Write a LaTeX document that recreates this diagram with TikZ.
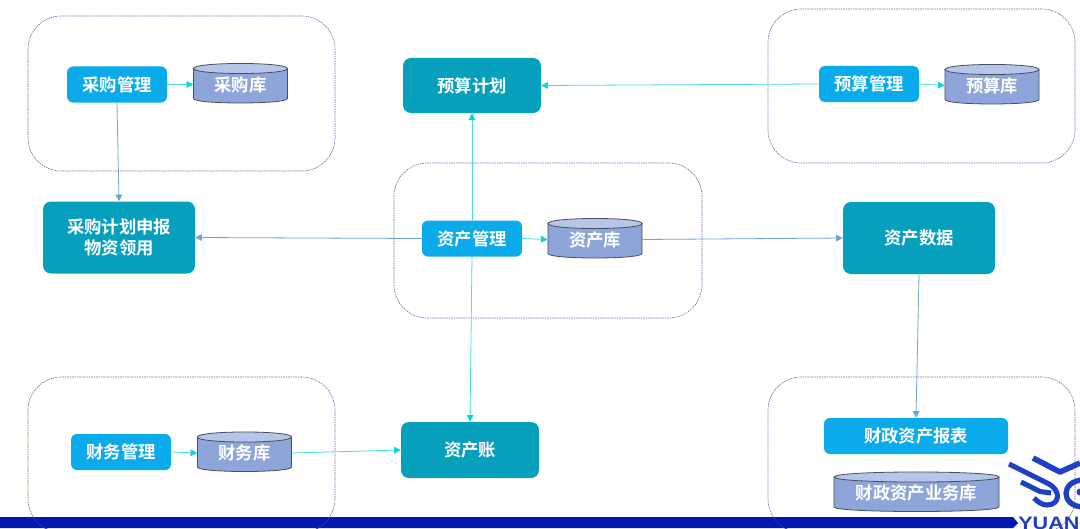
\documentclass[tikz,border=0pt]{standalone}
\usepackage{fontspec}
\setmainfont{Noto Sans CJK SC}[BoldFont={Noto Sans CJK SC Bold}]
\newfontfamily\logofont{Liberation Sans}
\usetikzlibrary{arrows.meta}
\definecolor{mgr}{HTML}{0BAAEA}
\definecolor{sys}{HTML}{06A0BC}
\definecolor{cylbody}{HTML}{8EA5D9}
\definecolor{cyltop}{HTML}{B6C5E8}
\definecolor{cyledge}{HTML}{4A4F5E}
\definecolor{frame}{HTML}{8159AE}
\definecolor{cyanline}{HTML}{45DCEE}
\definecolor{cyanhead}{HTML}{08D3EA}
\definecolor{steel}{HTML}{6BA5DC}
\definecolor{barblue}{HTML}{0318B0}
\definecolor{logoblue}{HTML}{1F3FC4}
\tikzset{
  x=0.75pt,y=-0.75pt,
  txt/.style={text=white,font=\bfseries\fontsize{13}{16}\selectfont,align=center,inner sep=0pt},
  zone/.style={draw=frame,dash pattern=on 1.1pt off 0.7pt,line width=0.45pt,rounded corners=25pt,fill=none},
  mgrbox/.style={txt,fill=mgr,rounded corners=4.5pt,minimum height=27pt},
  sysbox/.style={txt,fill=sys,rounded corners=6pt},
  db/.style={txt,minimum height=29.5pt},
  dbline/.style={draw=cyledge,line width=0.6pt},
  cyanarrow/.style={draw=cyanline,line width=0.6pt,-{Triangle[length=5pt,width=5pt,color=cyanhead]}},
  steelarrow/.style={draw=steel,line width=0.6pt,-{Triangle[length=5pt,width=5pt]}},
}
% cylinder: name, centre x, centre y, width (px), text
\newcommand\dbnode[5]{%
  \pgfmathsetmacro\xL{#2-#4/2}\pgfmathsetmacro\xR{#2+#4/2}%
  \pgfmathsetmacro\yT{#3-20}\pgfmathsetmacro\yA{#3-15}\pgfmathsetmacro\yB{#3+15}%
  \pgfmathsetmacro\yC{#3+21}\pgfmathsetmacro\yU{#3-21.7}\pgfmathsetmacro\yD{#3-8.3}%
  \path[dbline,fill=cylbody] (\xL,\yA) -- (\xL,\yB) .. controls (\xL,\yC) and (\xR,\yC) .. (\xR,\yB) -- (\xR,\yA) -- cycle;
  \path[dbline,fill=cyltop] (\xL,\yA) .. controls (\xL,\yU) and (\xR,\yU) .. (\xR,\yA) .. controls (\xR,\yD) and (\xL,\yD) .. (\xL,\yA) -- cycle;
  \node[db,minimum width=#4*0.75pt] (#1) at (#2,#3+1) {#5};%
}
\begin{document}
\begin{tikzpicture}
\useasboundingbox (0,0) rectangle (1080,528);
\fill[white] (0,0) rectangle (1080,528);
% zones
\node[zone,minimum width=230.25pt,minimum height=116.25pt] (z1) at (181.5,93.5) {};
\node[zone,minimum width=230.25pt,minimum height=115.5pt] (z2) at (921.5,86) {};
\node[zone,minimum width=231pt,minimum height=116.25pt] (z3) at (548,240.5) {};
\node[zone,minimum width=230.25pt,minimum height=116.25pt] (z4) at (181.5,454.5) {};
\node[zone,minimum width=230.25pt,minimum height=116.25pt] (z5) at (921.5,454.5) {};
% bar
\fill[barblue] (0,517) -- (1013,517) -- (1018,523) -- (1013,528) -- (0,528) -- cycle;
\begin{scope}
\clip (0,517) rectangle (1013,528);
\draw[frame!45!barblue,line width=0.45pt,rounded corners=25pt] (z4.north west) rectangle (z4.south east);
\draw[frame!45!barblue,line width=0.45pt,rounded corners=25pt] (z5.north west) rectangle (z5.south east);
\end{scope}
% nodes
\node[mgrbox,minimum width=75pt] (cgm) at (117,84.5) {采购管理};
\dbnode{cgk}{240.5}{83.5}{94}{采购库}
\node[sysbox,minimum width=103.5pt,minimum height=41.25pt] (ysjh) at (472,85.5) {预算计划};
\node[mgrbox,minimum width=75pt] (ysm) at (869,84) {预算管理};
\dbnode{ysk}{992}{84.5}{94}{预算库}
\node[sysbox,minimum width=114pt,minimum height=54pt] (cgjh) at (119,237.5) {采购计划申报\\物资领用};
\node[mgrbox,minimum width=75pt] (zcm) at (472,238.5) {资产管理};
\dbnode{zck}{595}{238.5}{94}{资产库}
\node[sysbox,minimum width=114pt,minimum height=54pt] (zcsj) at (919,238) {资产数据};
\node[mgrbox,minimum width=75pt] (cwm) at (121,452) {财务管理};
\dbnode{cwk}{244.5}{452}{94}{财务库}
\node[sysbox,minimum width=103.5pt,minimum height=42pt] (zcz) at (470,450) {资产账};
\node[mgrbox,minimum width=138pt] (czbb) at (916,436) {财政资产报表};
\dbnode{czk}{916.5}{492}{165}{财政资产业务库}
% connectors
\draw[cyanarrow] (cgm.east) -- (cgk.west);
\draw[steelarrow] (cgm.south) -- (cgjh.north);
\draw[cyanarrow] (ysm.east) -- (ysk.west);
\draw[cyanarrow] (ysm.west) -- (ysjh.east);
\draw[cyanarrow] (zcm.north) -- (ysjh.south);
\draw[cyanarrow] (zcm.south) -- (zcz.north);
\draw[steelarrow] (zcm.west) -- (cgjh.east);
\draw[cyanarrow] (zcm.east) -- (zck.west);
\draw[steelarrow] (zck.east) -- (zcsj.west);
\draw[steelarrow] (zcsj.south) -- (czbb.north);
\draw[cyanarrow] (cwm.east) -- (cwk.west);
\draw[cyanarrow] (cwk.east) -- (zcz.west);
% logo
\begin{scope}
\clip (1000,450) rectangle (1080,528);
\draw[logoblue,line width=4.2pt,line join=round] (1033,458) -- (1060,472) -- (1080,463);
\draw[logoblue,line width=3.8pt] (1009,464) -- (1047,483) .. controls (1062,490) and (1060,505) .. (1047,505) .. controls (1042,505) and (1038,502) .. (1034,498);
\draw[logoblue,line width=3.8pt] (1021,482) -- (1040,491.5) -- (1051,493);
\draw[logoblue,line width=4pt] (1084,480) .. controls (1060,480) and (1060,507) .. (1084,507);
\fill[logoblue] (1080,492) circle[radius=3.5];
\node[inner sep=0pt,anchor=base west,text=logoblue,xscale=1.2,font=\logofont\bfseries\fontsize{13.5}{14}\selectfont] (logo) at (1018,529) {YUAN};
\end{scope}
\end{tikzpicture}
\end{document}
